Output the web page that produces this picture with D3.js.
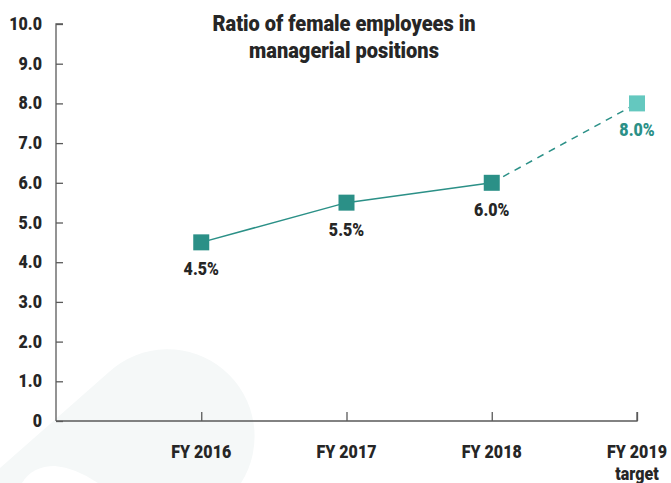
<!DOCTYPE html>
<html>
<head>
<meta charset="utf-8">
<script src="https://cdn.jsdelivr.net/npm/d3@7"></script>
<style>
  body { margin: 0; background: #fff; }
  text { font-family: Roboto, "Liberation Sans", sans-serif; font-weight: 900; }
</style>
</head>
<body>
<script>
var years = ["FY 2016", "FY 2017", "FY 2018", "FY 2019"];
var ratios = [4.5, 5.5, 6.0, 8.0];
var subLabels = ["", "", "", "target"];
var yTicks = [0, 1, 2, 3, 4, 5, 6, 7, 8, 9, 10];
var titleLines = ["Ratio of female employees in", "managerial positions"];

var W = 671, H = 483;
var margin = { left: 56, right: 34, top: 24, bottom: 62 };
var teal = "#2b9087", tealLight = "#64c8bf", ink = "#262626", axisCol = "#5a5a5a";
var squeeze = 0.89; // fake a condensed face

var svg = d3.select("body").append("svg")
    .attr("width", W)
    .attr("height", H);

// faint watermark shape in the background
svg.append("path")
    .attr("d", "M0,468 L109,372 A87,87 0 0 1 241,483 L0,483 Z")
    .attr("fill", "#f5f8f8");
svg.append("path")
    .attr("d", "M22,483 Q32,466 55,466 Q76,468 98,483 Z")
    .attr("fill", "#ffffff");

var x = d3.scaleLinear()
    .domain([-1, years.length - 1])
    .range([margin.left, W - margin.right]);

var y = d3.scaleLinear()
    .domain([0, 10])
    .range([H - margin.bottom, margin.top]);

function label(g, px, py, str, size, fill, anchor, sx) {
    g.append("g")
        .attr("transform", `translate(${px},${py}) scale(${sx || squeeze},1)`)
        .append("text")
        .attr("text-anchor", anchor || "middle")
        .attr("font-size", size)
        .attr("fill", fill)
        .text(str);
}

// y axis: ticks point into the plot
var yAxis = svg.append("g")
    .attr("transform", `translate(${margin.left},0)`)
    .call(d3.axisRight(y).tickValues(yTicks).tickSize(7).tickFormat(""));
yAxis.select(".domain").attr("stroke", axisCol).attr("stroke-width", 1.3).attr("d", `M7,${y(10)}H0V${y(0)}`);
yAxis.selectAll(".tick line").attr("stroke", axisCol).attr("stroke-width", 1.3);

yTicks.forEach(function (t) {
    label(svg, 42, y(t) + 6, t === 0 ? "0" : t.toFixed(1), 18, ink, "end");
});

// x axis: ticks point upward
var xAxis = svg.append("g")
    .attr("transform", `translate(0,${y(0)})`)
    .call(d3.axisTop(x).tickValues(d3.range(years.length)).tickSize(9).tickFormat(""));
xAxis.select(".domain").attr("stroke", axisCol).attr("stroke-width", 1.3)
    .attr("d", `M${x(-1)},0H${x(years.length - 1)}V-9`);
xAxis.selectAll(".tick line").attr("stroke", axisCol).attr("stroke-width", 1.3);

years.forEach(function (yr, i) {
    label(svg, x(i), 458, yr, 18, ink);
    if (subLabels[i]) label(svg, x(i), 480, subLabels[i], 18, ink);
});

// lines
var line = d3.line().x(d => x(d[0])).y(d => y(d[1]));
var pts = ratios.map((v, i) => [i, v]);
svg.append("path")
    .attr("d", line(pts.slice(0, 3)))
    .attr("fill", "none")
    .attr("stroke", teal)
    .attr("stroke-width", 1.5);
svg.append("path")
    .attr("d", line(pts.slice(2)))
    .attr("fill", "none")
    .attr("stroke", teal)
    .attr("stroke-width", 1.5)
    .attr("stroke-dasharray", "7,6");

// markers
var sq = 16;
svg.selectAll("rect.pt")
    .data(pts)
    .enter()
    .append("rect")
    .attr("class", "pt")
    .attr("x", d => x(d[0]) - sq / 2)
    .attr("y", d => y(d[1]) - sq / 2)
    .attr("width", sq)
    .attr("height", sq)
    .attr("fill", (d, i) => i === pts.length - 1 ? tealLight : teal);

pts.forEach(function (d, i) {
    label(svg, x(d[0]), y(d[1]) + 33, d[1].toFixed(1) + "%", 18,
        i === pts.length - 1 ? teal : ink);
});

// title
titleLines.forEach(function (t, i) {
    label(svg, 344, 31 + i * 27, t, 22, ink, "middle", 0.91);
});
</script>
</body>
</html>
